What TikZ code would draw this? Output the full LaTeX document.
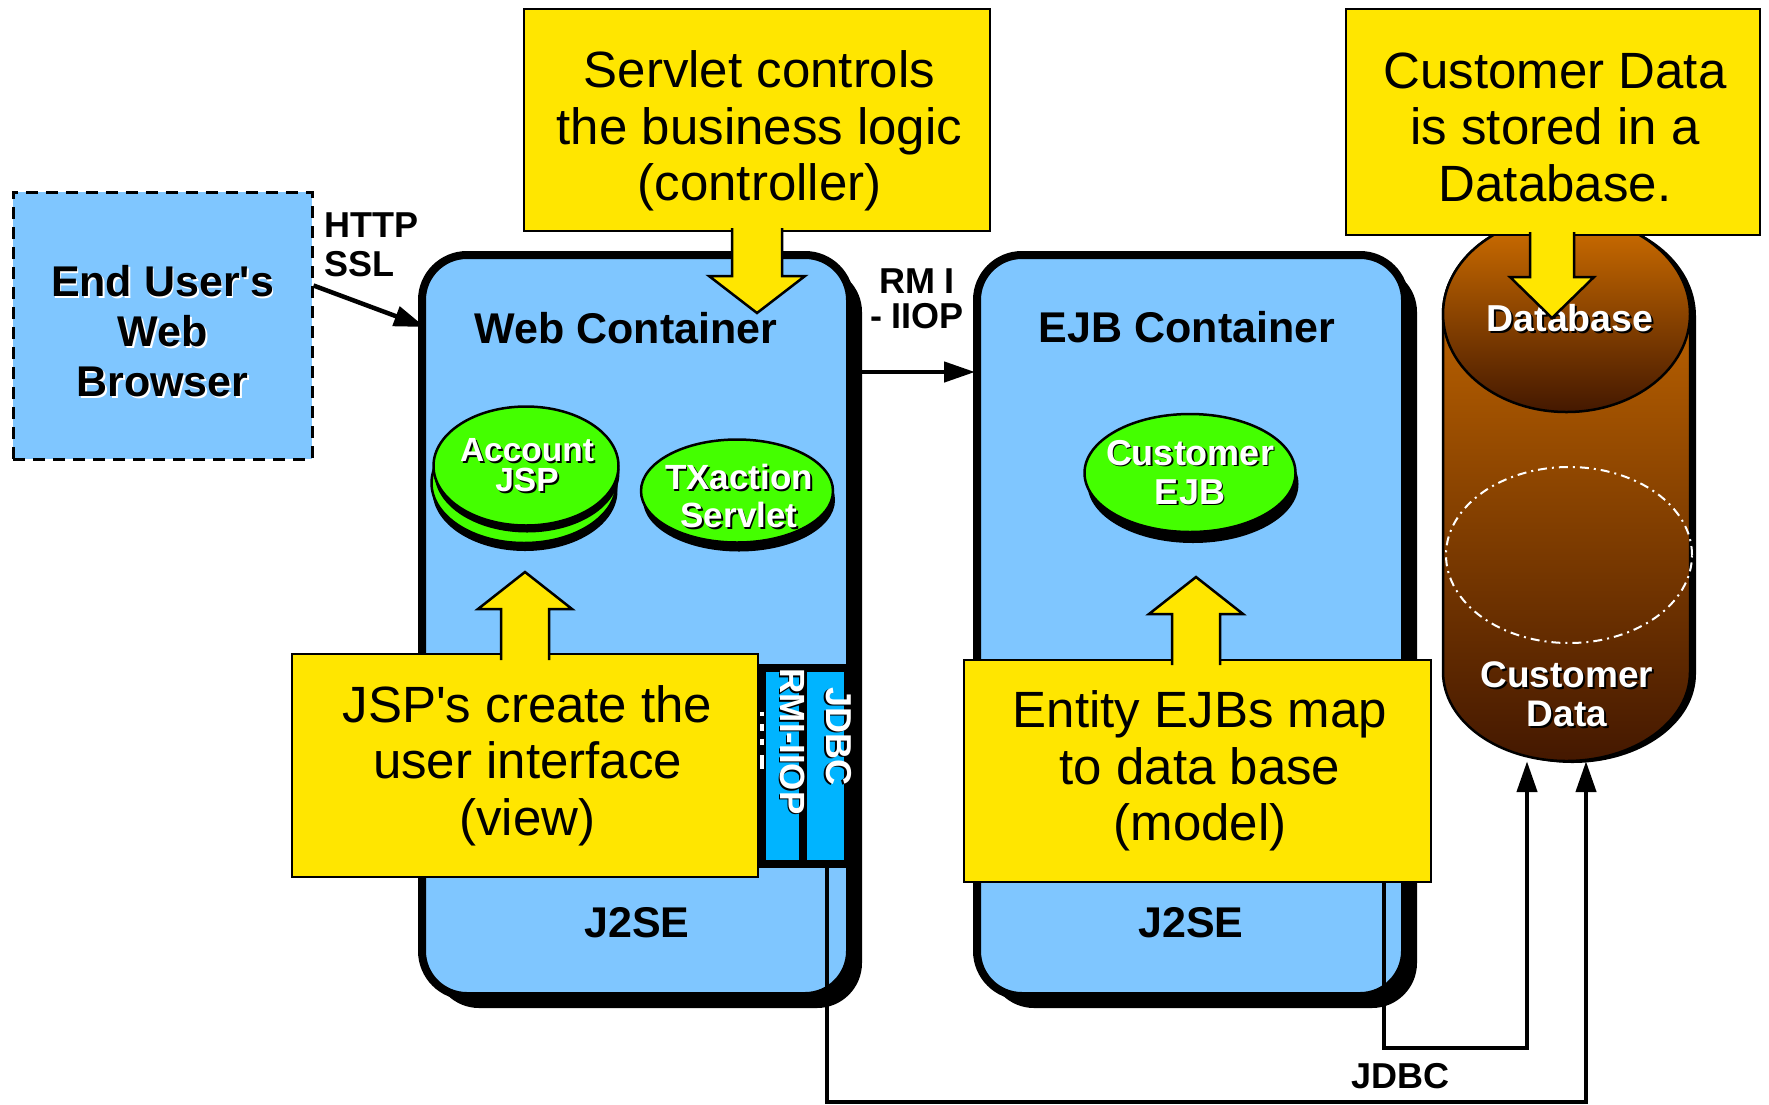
\documentclass[tikz,border=0pt]{standalone}
\usepackage{fontspec}
\setmainfont{Liberation Sans}[Ligatures=TeXOff]
\usetikzlibrary{arrows.meta, shadows, shapes.geometric}
\definecolor{paleblue}{HTML}{7FC6FF}
\definecolor{portblue}{HTML}{00B4FF}
\definecolor{beangreen}{HTML}{44FF00}
\definecolor{noteyellow}{HTML}{FFE600}
\definecolor{dbtop}{HTML}{D27000}
\definecolor{dbbottom}{HTML}{441800}
\newcommand*{\fsize}[2]{\fontsize{#1}{#2}\selectfont}
\newcommand*{\shtxt}[2][black]{\leavevmode\rlap{\kern1.8pt\raisebox{-1.8pt}{\color{#1}#2}}#2}
\tikzstyle{container} = [draw, line width=8pt, fill=paleblue, rectangle, rounded corners=45pt, drop shadow={shadow xshift=12pt, shadow yshift=-12pt, fill=black, opacity=1}]
\tikzstyle{callout} = [draw, line width=2.5pt, fill=noteyellow, rectangle]
\tikzstyle{notetext} = [align=center, inner sep=0pt, font=\fsize{51}{56.5}]
\tikzstyle{pointer} = [draw, line width=2.5pt, fill=noteyellow, line join=miter]
\tikzstyle{bean} = [draw, line width=2.5pt, fill=beangreen, ellipse, inner sep=0pt]
\tikzstyle{beantext} = [align=center, inner sep=0pt, text=white, font=\bfseries\fsize{35}{38}]
\tikzstyle{tag} = [font=\bfseries\fsize{36}{38.5}, inner sep=0pt]
\tikzstyle{heading} = [font=\bfseries\fsize{43}{50}, inner sep=0pt, align=center]
\tikzstyle{port} = [fill=portblue, rectangle, inner sep=0pt]
\tikzstyle{link} = [-{Triangle[length=31pt, width=20pt]}, line width=4.5pt]
\tikzstyle{dbbody} = [draw, line width=2.5pt, top color=dbtop, bottom color=dbbottom]
\begin{document}
\begin{tikzpicture}[x=1pt, y=-1pt]
    \useasboundingbox (0, 0) rectangle (1769, 1104);

    % Browser.
    \node (browser) [draw, dashed, dash pattern=on 12pt off 8pt, line width=3pt, fill=paleblue, minimum width=299pt, minimum height=267pt] at (162.5, 325.5) {};
    \node (browsertext) [heading] at (162.5, 332.5) {\shtxt[white]{End User's}\\\shtxt[white]{Web}\\\shtxt[white]{Browser}};

    % Containers.
    \node (web) [container, minimum width=428pt, minimum height=741pt] at (636, 625.5) {};
    \node (ejb) [container, minimum width=428pt, minimum height=741pt] at (1191, 625.5) {};
    \node (webtitle) [heading] at (626, 328) {Web Container};
    \node (ejbtitle) [heading] at (1187, 327) {EJB Container};
    \node (webse) [heading] at (637, 923) {J2SE};
    \node (ejbse) [heading] at (1191, 923) {J2SE};

    % Beans.
    \node (jspback) [bean, minimum width=185pt, minimum height=120pt, drop shadow={shadow xshift=1pt, shadow yshift=-8pt, fill=black, opacity=1}] at (524, 483) {};
    \node (jsp) [bean, minimum width=185pt, minimum height=119pt, drop shadow={shadow xshift=1pt, shadow yshift=-7pt, fill=black, opacity=1}] at (526, 466) {};
    \node (servlet) [bean, minimum width=192pt, minimum height=103pt, drop shadow={shadow xshift=2pt, shadow yshift=-9pt, fill=black, opacity=1}] at (737, 491) {};
    \node (bean) [bean, minimum width=211pt, minimum height=118pt, drop shadow={shadow xshift=3pt, shadow yshift=-11pt, fill=black, opacity=1}] at (1190, 473) {};
    \node (jsptext) [beantext, font=\bfseries\fsize{33.5}{30}] at (527, 466) {\shtxt{Account}\\\shtxt{JSP}};
    \node (servlettext) [beantext] at (739, 497) {\shtxt{TXaction}\\\shtxt{Servlet}};
    \node (beantext) [beantext, font=\bfseries\fsize{36}{39}] at (1190, 473) {\shtxt{Customer}\\\shtxt{EJB}};

    % Ports.
    \node (stack) [fill=black, minimum width=96pt, minimum height=204pt, inner sep=0pt] at (798, 766) {};
    \node (rmibox) [port, minimum width=33pt, minimum height=188pt] at (782.5, 766) {};
    \node (jdbcbox) [port, minimum width=37pt, minimum height=188pt] at (825.5, 766) {};
    \node (rmitag) [tag, text=white, rotate=-90, font=\bfseries\fsize{35}{38}] at (792, 741.5) {\shtxt{RMI-IIOP}};
    \node (jdbctag) [tag, text=white, rotate=-90] at (838, 736) {\shtxt{JDBC}};
    \foreach\a/\b in {712/716, 724/731, 739/745, 755/769} {
        \fill [white] (760, \a) rectangle (764, \b);
    }

    % Database.
    \path [dbbody, drop shadow={shadow xshift=6pt, shadow yshift=-2pt, fill=black, opacity=1}] (1443, 314) -- (1443, 672) arc [start angle=180, end angle=0, x radius=123.5, y radius=89] -- (1690, 314) arc [start angle=0, end angle=-180, x radius=123.5, y radius=98] -- cycle;
    \node (dbase) [minimum width=247pt, minimum height=545pt, inner sep=0pt] at (1566.5, 488.5) {};
    \node (dbhead) [ellipse, dbbody, minimum width=247pt, minimum height=196pt, inner sep=0pt] at (1566.5, 314) {};
    \node (dbdata) [ellipse, draw=white, line width=2pt, dash pattern=on 9pt off 5pt on 2pt off 5pt, minimum width=246pt, minimum height=176pt, inner sep=0pt] at (1569, 555) {};
    \node (dbname) [tag, text=white, font=\bfseries\fsize{37.5}{40}] at (1570, 319) {\shtxt{Database}};
    \node (dbtag) [tag, text=white, align=center, font=\bfseries\fsize{37}{39}] at (1567, 695) {\shtxt{Customer}\\\shtxt{Data}};

    % Link labels.
    \node (httptag) [tag, align=left, anchor=west] at (324, 245) {HTTP\\SSL};
    \node (rmtag) [tag, align=center, font=\bfseries\fsize{36}{35}] at (917, 299) {RM I\\- IIOP};
    \node (lowtag) [tag] at (1400, 1076) {JDBC};

    % Arrows.
    \coordinate (webin) at (425, 327);
    \coordinate (webout) at (862, 372);
    \coordinate (ejbin) at (975, 372);
    \coordinate (dbina) at ([xshift=-39.5pt]dbase.south);
    \coordinate (dbinb) at ([xshift=19.5pt]dbase.south);
    \coordinate (bota) at (1527, 1048);
    \coordinate (botb) at (1586, 1102);
    \draw [link] ([yshift=40pt]browser.east) -- (webin);
    \draw [link] (webout) -- (ejbin);
    \draw [link] (jdbcbox.south) ++(1.5, 0) |- (botb) -- (dbinb);

    % Callouts.
    \node (note1) [callout, minimum width=466pt, minimum height=222pt] at (757, 120) {};
    \node (note2) [callout, minimum width=414pt, minimum height=226pt] at (1553, 122) {};
    \node (note3) [callout, minimum width=466pt, minimum height=223pt] at (525, 765.5) {};
    \node (note4) [callout, minimum width=467pt, minimum height=222pt] at (1197.5, 771) {};
    \node (note1text) [notetext] at (759.5, 131) {Servlet controls\\the business logic\\(controller)};
    \node (note2text) [notetext] at (1555, 127) {Customer Data\\is stored in a\\Database.};
    \node (note3text) [notetext] at (527.5, 765.5) {JSP's create the\\user interface\\(view)};
    \node (note4text) [notetext] at (1200, 771) {Entity EJBs map\\to data base\\(model)};
    \draw [link] (note4.south) ++(186.5, 0) |- (bota) -- (dbina);

    \foreach\c/\b/\h/\t/\s/\w in {757/228/276/313/25/48, 1552/232/277/318/22/42, 525/660/609/572/24/47, 1196/665/614/577/24/47} {
        \draw [pointer] (\c-\s, \b) -- (\c-\s, \h) -- (\c-\w, \h) -- (\c, \t) -- (\c+\w, \h) -- (\c+\s, \h) -- (\c+\s, \b);
    }
\end{tikzpicture}
\end{document}
